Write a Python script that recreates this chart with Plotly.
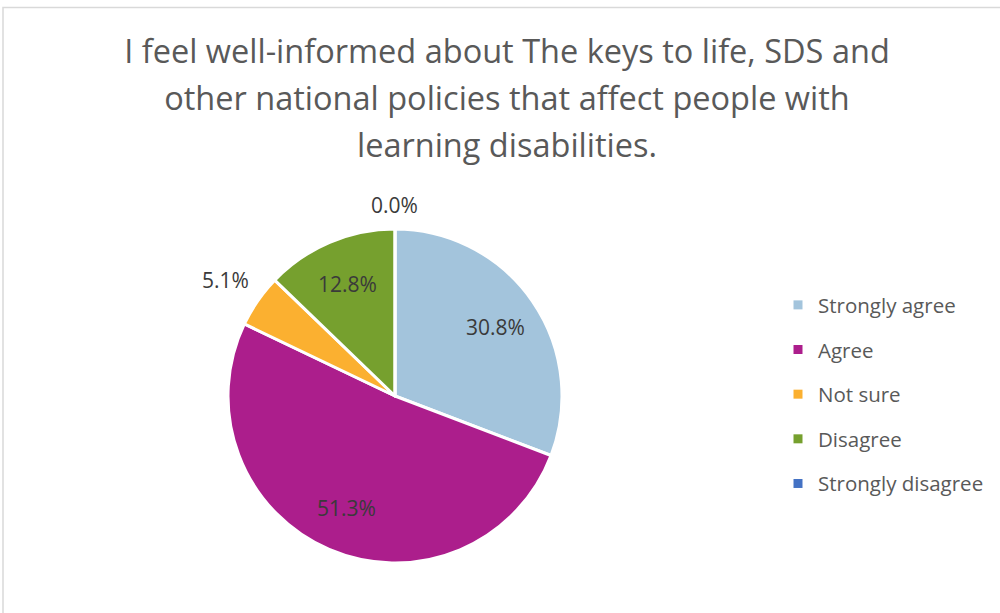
import math
import plotly.graph_objects as go

# Survey responses (percent of respondents)
categories = ["Strongly agree", "Agree", "Not sure", "Disagree", "Strongly disagree"]
percentages = [30.8, 51.3, 5.1, 12.8, 0.0]
colors = ["#A3C4DC", "#AC1E8C", "#FBB030", "#76A02E", "#4472C4"]
label_inside = [True, True, False, True, False]

title_lines = [
    "I feel well-informed about The keys to life, SDS and",
    "other national policies that affect people with",
    "learning disabilities.",
]

FONT = "'Open Sans', Lato, sans-serif"
TEXT_GREY = "#595959"
LABEL_GREY = "#3A3A3A"

# Pie placement (paper fractions) and radius in pixels
W, H = 1000, 613
dom_x = [0.228, 0.562]
dom_y = [0.0816, 0.6264]
cx = sum(dom_x) / 2
cy = sum(dom_y) / 2
R = (dom_x[1] - dom_x[0]) * W / 2

fig = go.Figure()

fig.add_trace(go.Pie(
    labels=categories,
    values=percentages,
    sort=False,
    direction="clockwise",
    rotation=0,
    marker=dict(colors=colors, line=dict(color="white", width=3)),
    textinfo="none",
    showlegend=False,
    hoverinfo="label+value",
    domain=dict(x=dom_x, y=dom_y),
))

# Data labels placed at each slice's mid-angle
annotations = []
total = sum(percentages)
cum = 0.0
for val, inside in zip(percentages, label_inside):
    theta = math.radians(360.0 * (cum + val / 2) / total)
    cum += val
    s, c = math.sin(theta), math.cos(theta)
    if inside:
        r = 0.73 * R
        xa, ya = "center", "middle"
    else:
        r = R + 8
        xa = "right" if s < -0.3 else ("left" if s > 0.3 else "center")
        ya = "bottom" if c > 0.3 else ("top" if c < -0.3 else "middle")
    annotations.append(dict(
        x=cx + r * s / W, y=cy + r * c / H, xref="paper", yref="paper",
        text=f"{val:.1f}%", showarrow=False, xanchor=xa, yanchor=ya,
        font=dict(family=FONT, size=21, color=LABEL_GREY),
    ))

# Legend entries, one group each so the spacing between rows can be set
for name, col in zip(categories, colors):
    fig.add_trace(go.Scatter(
        x=[None], y=[None], mode="markers", name=name, legendgroup=name,
        marker=dict(symbol="square", size=9, color=col),
    ))

# Title text in a smaller span so the line spacing follows the larger base size
title_text = "<br>".join(
    f"<span style='font-size:32.5px'>{line}</span>" for line in title_lines
)

fig.update_layout(
    width=W, height=H,
    margin=dict(l=0, r=0, t=0, b=0),
    paper_bgcolor="white", plot_bgcolor="white",
    title=dict(text=title_text, x=0.507, xanchor="center",
               y=1 - 63 / H, yanchor="top", yref="paper",
               font=dict(family=FONT, size=36, color=TEXT_GREY)),
    xaxis=dict(visible=False), yaxis=dict(visible=False),
    legend=dict(x=0.778, y=0.535, xanchor="left", yanchor="top",
                font=dict(family=FONT, size=20.5, color=TEXT_GREY),
                tracegroupgap=15, itemwidth=30, bgcolor="rgba(0,0,0,0)"),
    annotations=annotations,
    shapes=[dict(type="rect", xref="paper", yref="paper", x0=0.003, x1=1.01,
                 y0=-0.01, y1=1 - 7.5 / H, line=dict(color="#D9D9D9", width=1.5))],
)

fig.write_html("out.html")
